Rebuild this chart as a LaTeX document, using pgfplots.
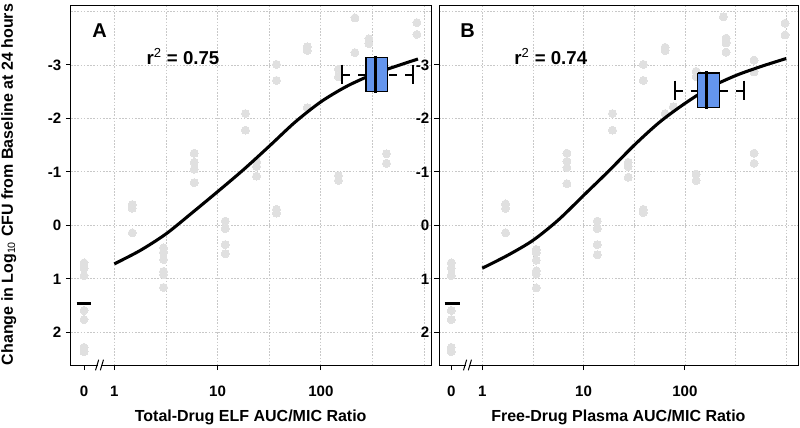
\documentclass[border=0pt]{standalone}
\usepackage{pgfplots}
\pgfplotsset{compat=1.18}
\usepackage{fontspec}
\setmainfont{Liberation Sans}
\definecolor{ptgray}{HTML}{E0E0E0}
\definecolor{boxblue}{RGB}{100,149,237}
\definecolor{gridgray}{HTML}{C8C8C8}
\pgfplotsset{
  panel/.style={
    scale only axis, height=269.6pt, anchor=south west,
    y dir=reverse, ymin=-4.11, ymax=2.61,
    axis line style={line width=0.75pt, black},
    tick style={line width=0.75pt, black},
    tick align=outside, major tick length=3.75pt,
    xtick pos=bottom, ytick pos=left,
    ytick={-3,-2,-1,0,1,2}, yticklabels={-3,-2,-1,0,1,2},
    minor xtick={0,0.5,1,1.5,2,2.5,3}, minor ytick={-4,-3,-2,-1,0,1,2},
    minor tick length=0pt,
    xminorgrids=true, yminorgrids=true,
    minor grid style={gridgray, dash pattern=on 1.2pt off 1.2pt, line width=0.6pt},
    ticklabel style={font=\bfseries\fontsize{11.3}{13}\selectfont},
    xticklabel style={anchor=base, yshift=-19.5pt},
    yticklabel style={anchor=east},
    clip=true, clip marker paths=true,
  },
  pts/.style={only marks, mark=*, mark size=3pt, color=ptgray, mark options={solid, fill=ptgray, draw=ptgray, line width=0pt}},
  fit/.style={line width=2.3pt, smooth, black},
}
\begin{document}
\begin{tikzpicture}
\useasboundingbox (0,0) rectangle (600pt,321pt);
% ---------------- Panel A ----------------
\begin{axis}[panel, at={(53.25pt,47.25pt)}, width=270pt,
  xmin=-0.419, xmax=3.066, xtick={-0.293,0,1,2}, xticklabels={0,1,10,100}]
\addplot[pts] coordinates {
(-0.293,0.70) (-0.293,0.80) (-0.293,0.94) (-0.293,1.59) (-0.293,1.76) (-0.293,2.28) (-0.293,2.36)
(0.174,-0.39) (0.174,-0.32) (0.174,0.14)
(0.477,0.42) (0.477,0.50) (0.477,0.64) (0.477,0.86) (0.477,0.92) (0.477,1.16)
(0.774,-1.35) (0.774,-1.18) (0.774,-1.05) (0.774,-0.80)
(1.074,-0.08) (1.074,0.06) (1.074,0.36) (1.074,0.53)
(1.270,-2.09) (1.270,-1.78)
(1.377,-1.19) (1.377,-1.10) (1.377,-0.92)
(1.570,-3.01) (1.570,-2.71) (1.570,-0.30) (1.570,-0.23)
(1.868,-3.34) (1.868,-3.27) (1.868,-2.20)
(2.170,-2.92) (2.170,-2.78) (2.170,-0.93) (2.170,-0.84)
(2.330,-3.88) (2.330,-3.23)
(2.465,-3.49) (2.465,-3.40)
(2.635,-1.34) (2.635,-1.16)
(2.930,-3.79) (2.930,-3.57)
};
\addplot[fit] coordinates {
(0,0.72) (0.25,0.47) (0.5,0.16) (0.75,-0.23) (1.0,-0.63) (1.25,-1.04) (1.5,-1.48)
(1.75,-1.93) (2.0,-2.31) (2.25,-2.60) (2.5,-2.82) (2.75,-2.99) (2.94,-3.11)
};
\addplot[line width=2.3pt, black] coordinates {(-0.365,1.46) (-0.221,1.46)};
\addplot[line width=1.5pt, dash pattern=on 6pt off 6pt] coordinates {(2.207,-2.82) (2.437,-2.82)};
\addplot[line width=1.5pt, dash pattern=on 6pt off 6pt] coordinates {(2.889,-2.82) (2.643,-2.82)};
\addplot[line width=1.5pt] coordinates {(2.207,-3.005) (2.207,-2.635)};
\addplot[line width=1.5pt] coordinates {(2.889,-3.005) (2.889,-2.635)};
\addplot[fill=boxblue, draw=black, line width=1.1pt] coordinates {(2.437,-3.14) (2.643,-3.14) (2.643,-2.50) (2.437,-2.50) (2.437,-3.14)};
\addplot[line width=2.6pt] coordinates {(2.53,-3.17) (2.53,-2.47)};
\node[font=\bfseries\fontsize{15}{17}\selectfont] at (axis cs:-0.143,-3.65) {A};
\node[font=\bfseries\fontsize{14}{16}\selectfont] at (axis cs:0.665,-3.16) {r\textsuperscript{\normalfont 2} = 0.75};
\coordinate (brA) at (axis cs:-0.143,2.61);
\end{axis}
% ---------------- Panel B ----------------
\begin{axis}[panel, at={(329.25pt,47.25pt)}, width=269.25pt,
  xmin=-0.427, xmax=3.116, xtick={-0.306,0,1,2}, xticklabels={0,1,10,100}]
\addplot[pts] coordinates {
(-0.306,0.70) (-0.306,0.80) (-0.306,0.94) (-0.306,1.59) (-0.306,1.76) (-0.306,2.28) (-0.306,2.36)
(0.230,-0.40) (0.230,-0.32) (0.230,0.14)
(0.533,0.45) (0.533,0.51) (0.533,0.65) (0.533,0.85) (0.533,0.91) (0.533,1.17)
(0.836,-1.35) (0.836,-1.20) (0.836,-1.08) (0.836,-0.78)
(1.135,-0.08) (1.135,0.06) (1.135,0.36) (1.135,0.55)
(1.285,-2.09) (1.285,-1.78)
(1.440,-1.18) (1.440,-1.10) (1.440,-0.90)
(1.589,-3.01) (1.589,-2.71) (1.589,-0.30) (1.589,-0.24)
(1.804,-3.33) (1.804,-3.27) (1.804,-2.09) (1.886,-2.22)
(2.110,-2.88) (2.110,-2.78) (2.110,-0.96) (2.110,-0.84)
(2.379,-3.90) (2.406,-3.50) (2.406,-3.41) (2.406,-3.24)
(2.682,-3.09) (2.682,-2.87) (2.682,-1.35) (2.682,-1.16)
(2.988,-3.78) (2.988,-3.56)
};
\addplot[fit] coordinates {
(0,0.80) (0.25,0.56) (0.5,0.28) (0.75,-0.10) (1.0,-0.56) (1.25,-1.02) (1.5,-1.50)
(1.75,-1.93) (2.0,-2.28) (2.25,-2.58) (2.5,-2.80) (2.75,-2.97) (3.0,-3.12)
};
\addplot[line width=2.3pt, black] coordinates {(-0.372,1.46) (-0.224,1.46)};
\addplot[line width=1.5pt, dash pattern=on 6pt off 6pt] coordinates {(1.900,-2.52) (2.126,-2.52)};
\addplot[line width=1.5pt, dash pattern=on 6pt off 6pt] coordinates {(2.583,-2.52) (2.340,-2.52)};
\addplot[line width=1.5pt] coordinates {(1.900,-2.705) (1.900,-2.335)};
\addplot[line width=1.5pt] coordinates {(2.583,-2.705) (2.583,-2.335)};
\addplot[fill=boxblue, draw=black, line width=1.1pt] coordinates {(2.126,-2.85) (2.340,-2.85) (2.340,-2.20) (2.126,-2.20) (2.126,-2.85)};
\addplot[line width=2.6pt] coordinates {(2.215,-2.88) (2.215,-2.17)};
\node[font=\bfseries\fontsize{15}{17}\selectfont] at (axis cs:-0.146,-3.65) {B};
\node[font=\bfseries\fontsize{14}{16}\selectfont] at (axis cs:0.676,-3.16) {r\textsuperscript{\normalfont 2} = 0.74};
\coordinate (brB) at (axis cs:-0.146,2.61);
\end{axis}
% axis breaks
\foreach \c in {brA,brB}{
  \fill[white] ([xshift=-1.2pt,yshift=-1pt]\c) rectangle ([xshift=1.2pt,yshift=1pt]\c);
  \draw[line width=0.75pt] ([xshift=-3pt,yshift=-4pt]\c) -- ([xshift=-0.6pt,yshift=4pt]\c);
  \draw[line width=0.75pt] ([xshift=0.6pt,yshift=-4pt]\c) -- ([xshift=3pt,yshift=4pt]\c);
}
% labels
\node[rotate=90, font=\bfseries\fontsize{12}{14}\selectfont] at (6.5pt,182.6pt) {Change in Log\textsubscript{\normalfont 10} CFU from Baseline at 24 hours};
\node[anchor=base, font=\bfseries\fontsize{12}{14}\selectfont] at (188pt,4.5pt) {Total-Drug ELF AUC/MIC Ratio};
\node[anchor=base, font=\bfseries\fontsize{12}{14}\selectfont] at (463.8pt,4.5pt) {Free-Drug Plasma AUC/MIC Ratio};
\end{tikzpicture}
\end{document}
